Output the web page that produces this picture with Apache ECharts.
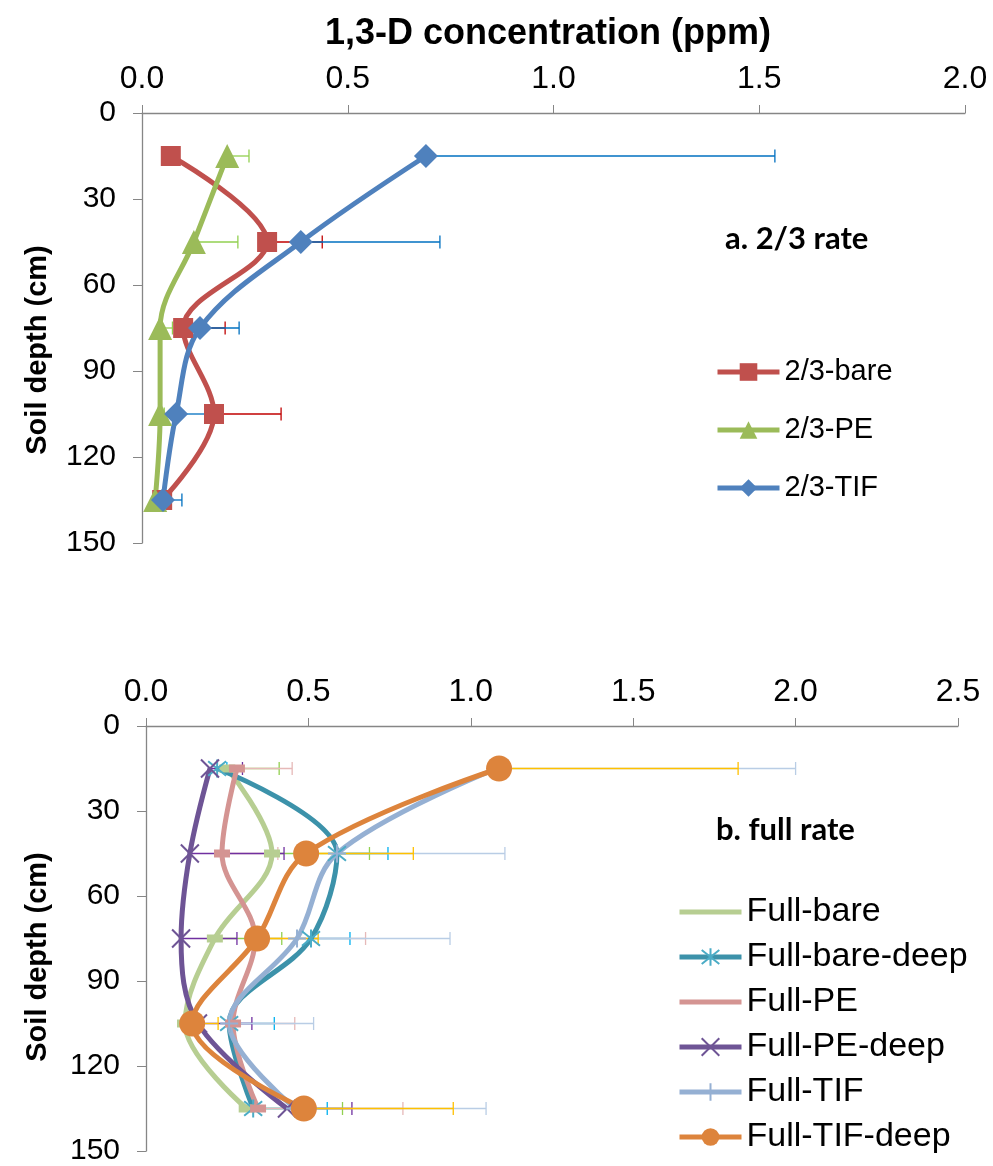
<!DOCTYPE html>
<html>
<head>
<meta charset="utf-8">
<script src="https://cdn.jsdelivr.net/npm/echarts@6/dist/echarts.min.js"></script>
<style>
html,body{margin:0;padding:0;background:#fff;}
#main{width:993px;height:1166px;}
</style>
</head>
<body>
<div id="main"></div>
<script>
// ---------- data ----------
const depths = [15, 45, 75, 105, 135];
const xTicksTop = [0, 0.5, 1.0, 1.5, 2.0];
const xTicksBottom = [0, 0.5, 1.0, 1.5, 2.0, 2.5];
const yTicks = [0, 30, 60, 90, 120, 150];

// panel a: 2/3 rate
const bare23 = [0.070, 0.304, 0.100, 0.175, 0.049];
const bare23Err = [0.01, 0.134, 0.102, 0.163, 0.01];
const pe23 = [0.207, 0.126, 0.044, 0.044, 0.032];
const pe23Err = [0.053, 0.107, 0.03, 0.01, 0.01];
const tif23 = [0.690, 0.386, 0.141, 0.083, 0.051];
const tif23Err = [0.848, 0.338, 0.095, 0.07, 0.046];

// panel b: full rate
const fullBare = [0.25, 0.388, 0.212, 0.120, 0.310];
const fullBareErr = [0.16, 0.300, 0.206, 0.03, 0.295];
const fullBareDeep = [0.219, 0.588, 0.508, 0.256, 0.330];
const fullBareDeepErr = [0.03, 0.157, 0.120, 0.139, 0.228];
const fullPE = [0.280, 0.234, 0.336, 0.268, 0.345];
const fullPEErr = [0.170, 0.172, 0.340, 0.190, 0.446];
const fullPEDeep = [0.197, 0.135, 0.108, 0.160, 0.434];
const fullPEDeepErr = [0.100, 0.290, 0.172, 0.166, 0.200];
const fullTIF = [1.080, 0.588, 0.465, 0.256, 0.459];
const fullTIFErr = [0.920, 0.517, 0.471, 0.260, 0.588];
const fullTIFDeep = [1.087, 0.493, 0.342, 0.142, 0.486];
const fullTIFDeepErr = [0.736, 0.330, 0.188, 0.080, 0.460];

// ---------- helpers ----------
const pairs = (vals) => vals.map((v, i) => [v, depths[i]]);
const errData = (vals, errs) => vals.map((v, i) => [v, depths[i], errs[i]]);

const SYM_STAR = 'path://M10,0L10,20M2,2L18,18M18,2L2,18';
const SYM_X = 'path://M0,0L20,20M20,0L0,20';
const SYM_PLUS = 'path://M10,0L10,20M0,10L20,10';

function lineSeries(name, vals, color, symbol, size, gi, extra) {
  const s = {
    name: name,
    type: 'line',
    xAxisIndex: gi, yAxisIndex: gi,
    data: pairs(vals),
    smooth: 0.35,
    symbol: symbol,
    symbolSize: size,
    lineStyle: { color: color, width: 5 },
    itemStyle: { color: color },
    z: 3,
    clip: false
  };
  return Object.assign(s, extra || {});
}

function errSeries(vals, errs, color, gi) {
  return {
    type: 'custom',
    xAxisIndex: gi, yAxisIndex: gi,
    data: errData(vals, errs),
    encode: { x: 0, y: 1 },
    silent: true,
    z: 2,
    clip: false,
    renderItem: function (params, api) {
      const x = api.value(0), y = api.value(1), e = api.value(2);
      const p0 = api.coord([x, y]);
      const p1 = api.coord([x + e, y]);
      const st = { stroke: color, lineWidth: 1.3 };
      return {
        type: 'group',
        children: [
          { type: 'line', shape: { x1: p0[0], y1: p0[1], x2: p1[0], y2: p1[1] }, style: st },
          { type: 'line', shape: { x1: p1[0], y1: p1[1] - 6.5, x2: p1[0], y2: p1[1] + 6.5 }, style: st }
        ]
      };
    }
  };
}

const axisGrey = '#868686';
const SANS = 'Liberation Sans, Arial, sans-serif';
const labelFontY = { fontFamily: SANS, fontSize: 30, color: '#000' };
const labelFontX = { fontFamily: SANS, fontSize: 32, color: '#000' };

function xAxis(gi, max, ticks) {
  return {
    type: 'value', gridIndex: gi, position: 'top',
    min: 0, max: max, interval: 0.5,
    axisLine: { show: true, lineStyle: { color: axisGrey, width: 1.3 } },
    axisTick: { show: true, inside: false, length: 8, lineStyle: { color: axisGrey } },
    splitLine: { show: false },
    axisLabel: Object.assign({ margin: 18, formatter: (v) => ticks.indexOf(v) >= 0 ? v.toFixed(1) : '' }, labelFontX)
  };
}
function yAxis(gi) {
  return {
    type: 'value', gridIndex: gi, inverse: true,
    min: 0, max: 150, interval: 30,
    axisLine: { show: true, onZero: false, lineStyle: { color: axisGrey, width: 1.3 } },
    axisTick: { show: true, inside: false, length: 9, lineStyle: { color: axisGrey } },
    splitLine: { show: false },
    axisLabel: Object.assign({ margin: 26, formatter: (v) => yTicks.indexOf(v) >= 0 ? String(v) : '' }, labelFontY)
  };
}

const chart = echarts.init(document.getElementById('main'), null, { renderer: 'canvas' });

const yNameStyle = { text: 'Soil depth (cm)', fontFamily: SANS, fontWeight: 'bold', fontSize: 29,
  fill: '#000', textAlign: 'center', textVerticalAlign: 'middle' };

const option = {
  animation: false,
  backgroundColor: '#fff',
  title: [
    { text: '1,3-D concentration (ppm)', left: 543, top: 11, textAlign: 'center',
      textStyle: { fontFamily: SANS, fontWeight: 'bold', fontSize: 36, color: '#000' } },
    { text: 'a. 2/3 rate', left: 720, top: 218,
      textStyle: { fontFamily: 'Lato, Open Sans, sans-serif', fontWeight: 'bold', fontSize: 31, color: '#000' } },
    { text: 'b. full rate', left: 711, top: 809,
      textStyle: { fontFamily: 'Lato, Open Sans, sans-serif', fontWeight: 'bold', fontSize: 31, color: '#000' } }
  ],
  graphic: [
    { type: 'text', x: 38, y: 350, rotation: Math.PI / 2, style: yNameStyle },
    { type: 'text', x: 38, y: 957, rotation: Math.PI / 2, style: yNameStyle }
  ],
  grid: [
    { left: 142, top: 113, width: 823, height: 430 },
    { left: 146, top: 726, width: 812, height: 429 }
  ],
  xAxis: [xAxis(0, 2.0, xTicksTop), xAxis(1, 2.5, xTicksBottom)],
  yAxis: [yAxis(0), yAxis(1)],
  legend: [
    { data: ['2/3-bare', '2/3-PE', '2/3-TIF'], orient: 'vertical', left: 715, top: 356, padding: 0,
      itemWidth: 62, itemHeight: 22, itemGap: 26,
      lineStyle: { width: 5 },
      textStyle: { fontFamily: SANS, fontSize: 29, color: '#000', lineHeight: 32 } },
    { data: [
        { name: 'Full-bare', itemStyle: { opacity: 0 } },
        'Full-bare-deep',
        { name: 'Full-PE', itemStyle: { opacity: 0 } },
        'Full-PE-deep', 'Full-TIF', 'Full-TIF-deep'],
      orient: 'vertical', left: 677, top: 894, padding: 0,
      itemWidth: 62, itemHeight: 22, itemGap: 9,
      lineStyle: { width: 5 },
      textStyle: { fontFamily: SANS, fontSize: 34, color: '#000', lineHeight: 36 } }
  ],
  series: [
    errSeries(bare23, bare23Err, '#C00000', 0),
    errSeries(pe23, pe23Err, '#92D050', 0),
    errSeries(tif23, tif23Err, '#0070C0', 0),
    lineSeries('2/3-bare', bare23, '#C0504D', 'rect', 20, 0),
    lineSeries('2/3-PE', pe23, '#9BBB59', 'triangle', 24, 0),
    lineSeries('2/3-TIF', tif23, '#4F81BD', 'diamond', 24, 0),

    errSeries(fullBare, fullBareErr, '#92D050', 1),
    errSeries(fullBareDeep, fullBareDeepErr, '#00B0F0', 1),
    errSeries(fullPE, fullPEErr, '#E6B9B8', 1),
    errSeries(fullPEDeep, fullPEDeepErr, '#7030A0', 1),
    errSeries(fullTIF, fullTIFErr, '#B9CDE5', 1),
    errSeries(fullTIFDeep, fullTIFDeepErr, '#FFC000', 1),
    lineSeries('Full-bare', fullBare, '#B7CE92', 'rect', [16, 8], 1),
    lineSeries('Full-bare-deep', fullBareDeep, '#3C92AA', SYM_STAR, 18, 1,
      { itemStyle: { color: '#4BACC6', borderColor: '#4BACC6', borderWidth: 2 } }),
    lineSeries('Full-PE', fullPE, '#D49492', 'rect', [16, 8], 1),
    lineSeries('Full-PE-deep', fullPEDeep, '#6E5495', SYM_X, 18, 1,
      { itemStyle: { color: '#6E5495', borderColor: '#6E5495', borderWidth: 2 } }),
    lineSeries('Full-TIF', fullTIF, '#95B0D3', SYM_PLUS, 18, 1,
      { itemStyle: { color: '#95B0D3', borderColor: '#95B0D3', borderWidth: 2 } }),
    lineSeries('Full-TIF-deep', fullTIFDeep, '#DD843C', 'circle', 26, 1)
  ]
};
chart.setOption(option);
</script>
</body>
</html>
